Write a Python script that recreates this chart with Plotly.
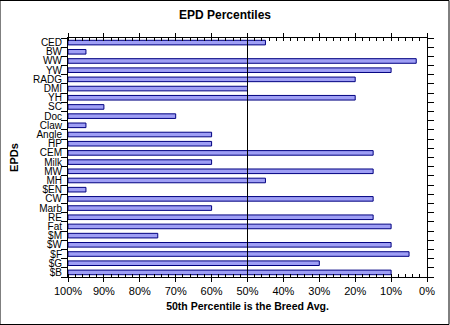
import plotly.graph_objects as go

categories = ["CED", "BW", "WW", "YW", "RADG", "DMI", "YH", "SC", "Doc", "Claw",
              "Angle", "HP", "CEM", "Milk", "MW", "MH", "$EN", "CW", "Marb", "RE",
              "Fat", "$M", "$W", "$F", "$G", "$B"]
percentiles = [45, 95, 3, 10, 20, 50, 20, 90, 70, 95,
               60, 60, 15, 60, 15, 45, 95, 15, 60, 15,
               10, 75, 10, 5, 30, 10]
tick_vals = [100, 90, 80, 70, 60, 50, 40, 30, 20, 10, 0]
tick_text = [f"{v}%" for v in tick_vals]

fig = go.Figure()
fig.add_trace(go.Bar(
    y=categories,
    x=[100 - p for p in percentiles],
    base=percentiles,
    orientation="h",
    width=0.5,
    marker=dict(color="#9f9ff5", line=dict(color="#000080", width=1)),
    hoverinfo="skip",
))

fig.add_shape(type="line", xref="x", yref="paper", x0=50, x1=50, y0=0, y1=1,
              line=dict(color="black", width=1), layer="above")
fig.add_shape(type="rect", xref="paper", yref="paper", x0=-68/359, x1=1+22/359,
              y0=-47.5/239, y1=1+37.5/239, line=dict(color="black", width=1))

fig.update_layout(
    width=450, height=325,
    margin=dict(l=68, r=23, t=38, b=48),
    paper_bgcolor="white", plot_bgcolor="white",
    showlegend=False,
    bargap=0.5,
    title=dict(text="<b>EPD Percentiles</b>", x=0.5, xanchor="center", y=0.955, yanchor="middle",
               font=dict(family="Arial, Liberation Sans", size=12, color="black")),
    font=dict(family="Arial, Liberation Sans", color="black"),
    xaxis=dict(
        range=[100, 0], tickvals=tick_vals, ticktext=tick_text,
        showgrid=False, zeroline=False, showline=True, linecolor="black", linewidth=1,
        mirror="allticks", ticks="outside", ticklen=4, tickcolor="black",
        minor=dict(dtick=2, ticks="inside", ticklen=3, tickcolor="black"),
        tickfont=dict(size=11),
        title=dict(text="<b>50th Percentile is the Breed Avg.</b>", font=dict(size=10.5), standoff=6),
    ),
    yaxis=dict(
        categoryorder="array", categoryarray=categories, autorange="reversed",
        tickmode="array", tickvals=categories, ticktext=categories,
        showgrid=False, zeroline=False, showline=True, linecolor="black", linewidth=1,
        mirror="allticks", ticks="outside", tickson="boundaries", ticklen=6, tickcolor="black",
        ticklabelstandoff=3,
        tickfont=dict(size=10),
        title=dict(text="<b>EPDs</b>", font=dict(size=11), standoff=12),
    ),
)

fig.write_html("out.html")
